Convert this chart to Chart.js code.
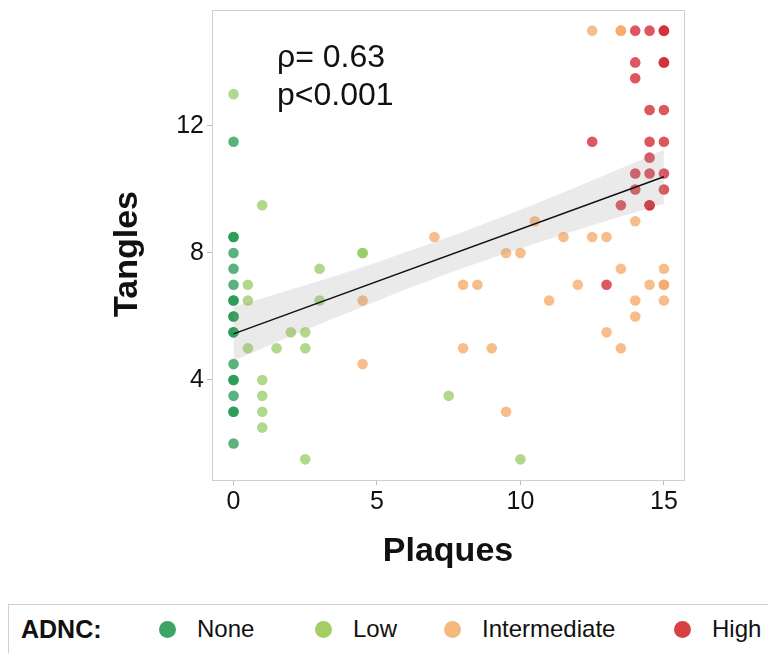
<!DOCTYPE html>
<html>
<head>
<meta charset="utf-8">
<script src="https://cdn.jsdelivr.net/npm/chart.js@4"></script>
<style>
  body { margin: 0; background: #fff; font-family: "Liberation Sans", Arial, sans-serif; }
  #wrap { position: relative; width: 768px; height: 653px; overflow: hidden; }
  #chart { position: absolute; left: 0; top: 0; }
  #legend { position: absolute; left: 8px; top: 604px; width: 790px; height: 50px;
            border: 1px solid #cfcfcf; box-sizing: border-box; }
  #legend .title { position: absolute; left: 12px; top: 10px; font-size: 25px; font-weight: bold; color: #111; }
  #legend .dot { position: absolute; top: 16px; width: 17px; height: 17px; border-radius: 50%; }
  #legend .lab { position: absolute; top: 10px; font-size: 24px; color: #111; }
</style>
</head>
<body>
<div id="wrap">
  <canvas id="chart" width="768" height="590"></canvas>
  <div id="legend"><span class="title">ADNC:</span></div>
</div>
<script>
// ticks
const xTicks = [0, 5, 10, 15];
const yTicks = [4, 8, 12];

// points per ADNC group (plaques, tangles)
const noneX = [0, 0, 0, 0, 0, 0, 0, 0, 0, 0, 0, 0, 0, 0, 0, 0, 0, 0, 0];
const noneY = [11.5, 8.5, 8.5, 8, 7.5, 7, 6.5, 6.5, 6, 6, 5.5, 5.5, 4.5, 4, 4, 3.5, 3, 3, 2];

const lowX = [0, 1, 0.5, 0.5, 3, 3, 4.5, 4.5, 2, 2.5, 0.5, 1.5, 2.5, 1, 1, 1, 1, 2.5, 7.5, 10];
const lowY = [13, 9.5, 7, 6.5, 7.5, 6.5, 8, 8, 5.5, 5.5, 5, 5, 5, 4, 3.5, 3, 2.5, 1.5, 3.5, 1.5];

const intX = [4.5, 4.5, 7, 8, 8.5, 8, 9, 9.5, 9.5, 10, 10.5, 11.5, 12.5, 13, 12.5, 13.5, 13.5, 14,
              13.5, 15, 12, 14.5, 15, 15, 11, 14, 15, 14, 13, 13.5];
const intY = [6.5, 4.5, 8.5, 7, 7, 5, 5, 3, 8, 8, 9, 8.5, 8.5, 8.5, 15, 15, 15, 9,
              7.5, 7.5, 7, 7, 7, 7, 6.5, 6.5, 6.5, 6, 5.5, 5];

const highX = [14, 14.5, 15, 15, 14, 15, 15, 14, 14.5, 15, 12.5, 14.5, 15, 14.5, 14, 14.5, 15,
               14, 15, 13.5, 14.5, 14.5, 13];
const highY = [15, 15, 15, 15, 14, 14, 14, 13.5, 12.5, 12.5, 11.5, 11.5, 11.5, 11, 10.5, 10.5, 10.5,
               10, 10, 9.5, 9.5, 9.5, 7];

// linear fit and its confidence band
const fitX = [0, 15];
const fitY = [5.45, 10.4];
const bandX = [0, 2.5, 5, 7.5, 10, 12.5, 15];
const bandUpper = [6.3, 6.98, 7.71, 8.5, 9.36, 10.28, 11.25];
const bandLower = [4.6, 5.57, 6.49, 7.36, 8.14, 8.87, 9.55];

const groups = [
  { label: 'None', xs: noneX, ys: noneY, color: 'rgba(26,150,75,0.72)', key: 'rgb(60,165,100)' },
  { label: 'Low', xs: lowX, ys: lowY, color: 'rgba(145,200,90,0.7)', key: 'rgb(165,205,100)' },
  { label: 'Intermediate', xs: intX, ys: intY, color: 'rgba(244,165,96,0.72)', key: 'rgb(245,185,125)' },
  { label: 'High', xs: highX, ys: highY, color: 'rgba(210,40,50,0.78)', key: 'rgb(215,65,70)' }
];

const zip = (xs, ys) => xs.map((x, i) => ({ x: x, y: ys[i] }));

const datasets = [
  { type: 'line', data: zip(fitX, fitY), borderColor: '#111', borderWidth: 1.5,
    pointRadius: 0, fill: false },
  { type: 'line', data: zip(bandX, bandUpper), borderWidth: 0, pointRadius: 0,
    backgroundColor: 'rgba(150,150,150,0.2)', fill: '+1', tension: 0.3 },
  { type: 'line', data: zip(bandX, bandLower), borderWidth: 0, pointRadius: 0,
    fill: false, tension: 0.3 }
];
groups.forEach(g => {
  datasets.push({
    type: 'scatter', label: g.label, data: zip(g.xs, g.ys),
    backgroundColor: g.color, borderWidth: 0, pointRadius: 5.3
  });
});

const fam = '"Liberation Sans", Arial, sans-serif';

// plot frame, y title and correlation text
const extras = {
  id: 'extras',
  afterDraw(chart) {
    const { ctx, chartArea: a } = chart;
    ctx.save();
    ctx.strokeStyle = '#cfcfcf';
    ctx.lineWidth = 1;
    ctx.strokeRect(a.left + 0.5, a.top + 0.5, a.right - a.left, a.bottom - a.top);
    ctx.fillStyle = '#111';
    ctx.font = '32px ' + fam;
    ctx.fillText('ρ= 0.63', 277, 67);
    ctx.fillText('p<0.001', 277, 105);
    ctx.translate(128, 254);
    ctx.rotate(-Math.PI / 2);
    ctx.textAlign = 'center';
    ctx.textBaseline = 'middle';
    ctx.font = 'bold 34px ' + fam;
    ctx.fillText('Tangles', 0, 0);
    ctx.restore();
  }
};

const font = { family: fam };

new Chart(document.getElementById('chart'), {
  type: 'scatter',
  data: { datasets: datasets },
  options: {
    responsive: false,
    animation: false,
    layout: { padding: { left: 0, top: 10, right: 84, bottom: 0 } },
    plugins: { legend: { display: false }, tooltip: { enabled: false } },
    scales: {
      x: {
        type: 'linear', min: -0.75, max: 15.7,
        afterBuildTicks: s => { s.ticks = xTicks.map(v => ({ value: v })); },
        afterFit: s => { s.height = 110; },
        grid: { drawOnChartArea: false, tickLength: 5, tickColor: '#bbb' },
        border: { color: '#cfcfcf' },
        ticks: { font: { ...font, size: 25 }, color: '#111', padding: 2, maxRotation: 0 },
        title: { display: true, text: 'Plaques', color: '#111',
                 font: { ...font, size: 34, weight: 'bold' }, padding: { top: 0, bottom: 18 } }
      },
      y: {
        type: 'linear', min: 0.85, max: 15.65,
        afterBuildTicks: s => { s.ticks = yTicks.map(v => ({ value: v })); },
        afterFit: s => { s.width = 212; s.paddingTop = 0; s.paddingBottom = 0; },
        grid: { drawOnChartArea: false, tickLength: 5, tickColor: '#bbb' },
        border: { color: '#cfcfcf' },
        ticks: { font: { ...font, size: 25 }, color: '#111', padding: 3 }
      }
    }
  },
  plugins: [extras]
});

// legend row
const legend = document.getElementById('legend');
const keyLeft = [150, 306, 435, 665];
groups.forEach((g, i) => {
  const dot = document.createElement('span');
  dot.className = 'dot';
  dot.style.left = keyLeft[i] + 'px';
  dot.style.background = g.key;
  legend.appendChild(dot);
  const lab = document.createElement('span');
  lab.className = 'lab';
  lab.style.left = (keyLeft[i] + 38) + 'px';
  lab.textContent = g.label;
  legend.appendChild(lab);
});
</script>
</body>
</html>
